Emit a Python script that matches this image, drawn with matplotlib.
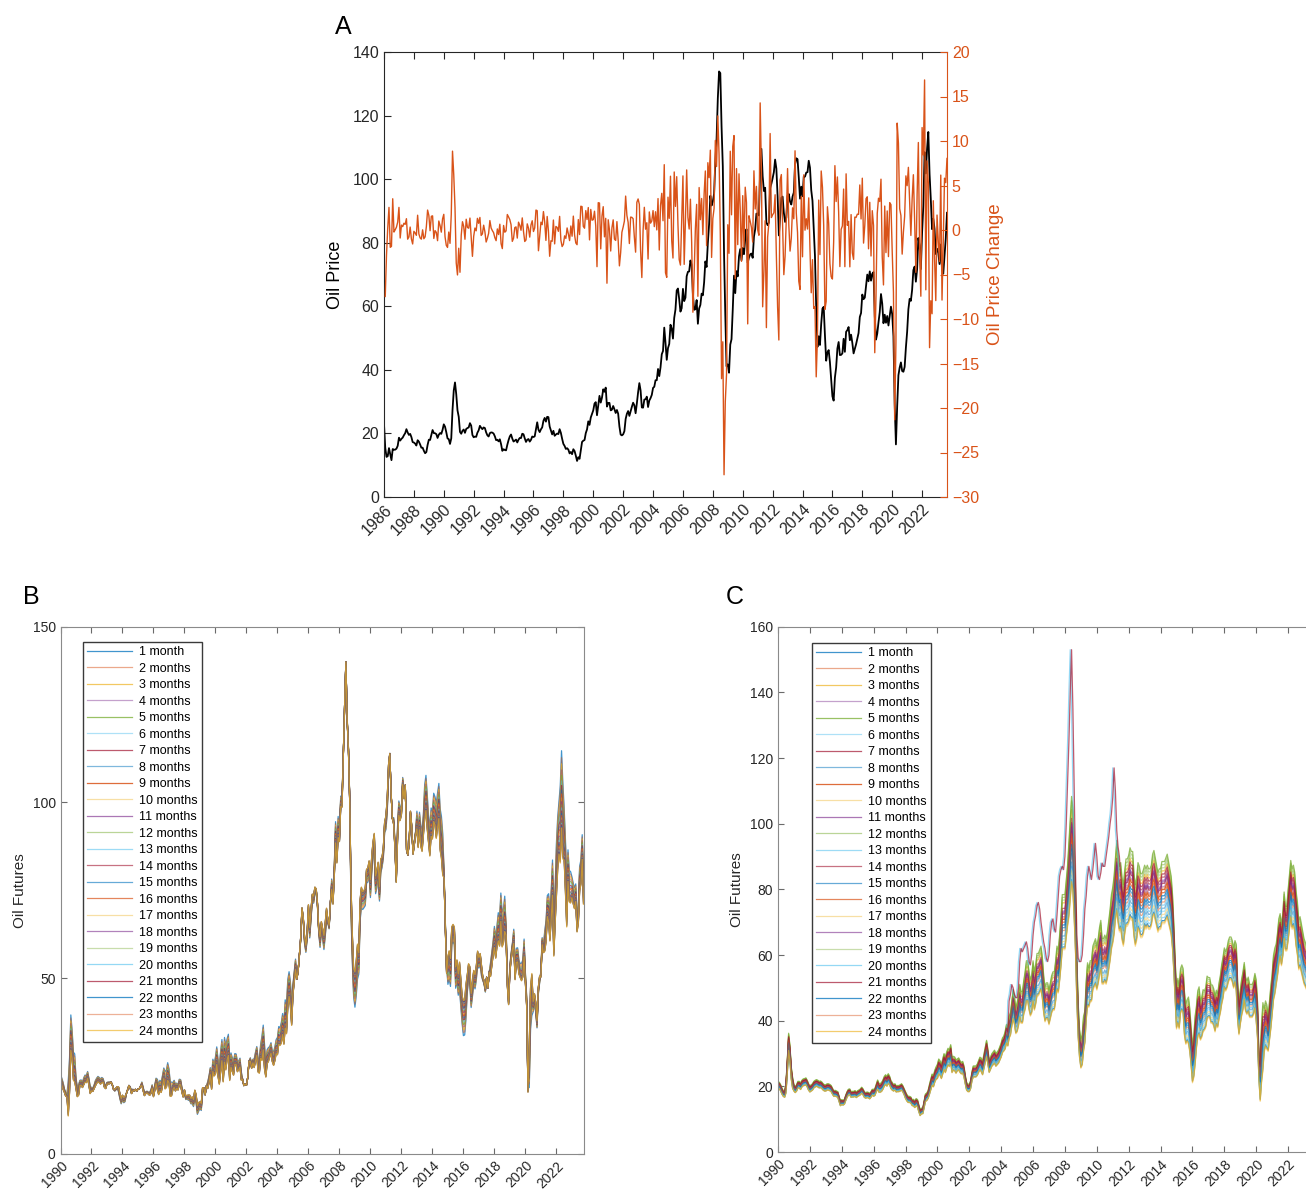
import numpy as np
import matplotlib
matplotlib.use('Agg')
import matplotlib.pyplot as plt

plt.rcParams['font.family'] = ['Liberation Sans', 'DejaVu Sans']

# ---------------------------------------------------------------------------
# Panel A: monthly oil price, Jan 1986 - Sep 2023
# ---------------------------------------------------------------------------
oil_price = [
    22.93, 15.46, 12.61, 12.84, 15.38, 13.43, 11.59, 15.10, 14.87, 14.90, 15.22, 16.11,  # 1986
    18.65, 17.75, 18.30, 18.68, 19.44, 20.07, 21.34, 20.31, 19.53, 19.86, 18.85, 17.28,  # 1987
    17.13, 16.80, 16.20, 17.86, 17.42, 16.53, 15.50, 15.52, 14.54, 13.77, 14.14, 16.38,  # 1988
    18.02, 17.94, 19.48, 21.07, 20.12, 20.05, 19.78, 18.58, 19.59, 20.10, 19.86, 21.10,  # 1989
    22.86, 22.11, 20.39, 18.43, 18.20, 16.70, 18.45, 27.31, 33.51, 36.04, 32.33, 27.28,  # 1990
    25.23, 20.48, 19.90, 20.83, 21.23, 20.19, 21.40, 21.69, 21.89, 23.23, 22.46, 19.50,  # 1991
    18.79, 19.01, 18.92, 20.23, 20.98, 22.39, 21.78, 21.34, 21.88, 21.69, 20.34, 19.41,  # 1992
    19.03, 20.09, 20.32, 20.25, 19.95, 19.09, 17.89, 18.01, 17.50, 18.15, 16.61, 14.52,  # 1993
    15.03, 14.78, 14.68, 16.42, 17.89, 19.06, 19.66, 18.38, 17.45, 17.72, 18.07, 17.16,  # 1994
    18.04, 18.57, 18.54, 19.90, 19.74, 18.45, 17.33, 18.02, 18.23, 17.43, 17.99, 19.03,  # 1995
    18.86, 19.09, 21.33, 23.50, 21.17, 20.42, 21.30, 21.90, 23.97, 24.88, 23.71, 25.23,  # 1996
    25.13, 22.18, 20.97, 19.70, 20.82, 19.26, 19.66, 19.95, 19.80, 21.33, 20.19, 18.33,  # 1997
    16.72, 16.06, 15.12, 15.35, 14.91, 13.72, 14.17, 13.47, 15.03, 14.46, 13.00, 11.35,  # 1998
    12.52, 12.01, 14.68, 17.31, 17.72, 17.92, 20.10, 21.28, 23.80, 22.69, 25.00, 26.10,  # 1999
    27.26, 29.37, 29.84, 25.72, 28.79, 31.82, 29.70, 31.26, 33.88, 33.11, 34.42, 28.44,  # 2000
    29.59, 29.61, 27.25, 27.49, 28.63, 27.60, 26.43, 27.37, 26.20, 22.17, 19.64, 19.39,  # 2001
    19.72, 20.72, 24.53, 26.18, 27.04, 25.52, 26.97, 28.39, 29.66, 28.84, 26.35, 29.46,  # 2002
    32.95, 35.83, 33.51, 28.17, 28.11, 30.66, 30.75, 31.57, 28.31, 30.34, 31.11, 32.13,  # 2003
    34.31, 34.69, 36.74, 36.75, 40.28, 38.03, 40.78, 44.90, 45.94, 53.28, 48.47, 43.15,  # 2004
    46.84, 48.15, 54.19, 52.98, 49.83, 56.35, 59.00, 64.99, 65.59, 62.26, 58.32, 59.41,  # 2005
    65.49, 61.63, 62.69, 69.44, 70.84, 70.95, 74.41, 73.04, 63.80, 58.89, 59.08, 61.96,  # 2006
    54.51, 59.28, 60.44, 63.98, 63.46, 67.49, 74.12, 72.36, 79.92, 85.80, 94.77, 91.69,  # 2007
    92.97, 95.39, 105.45, 112.58, 125.40, 133.88, 133.37, 116.67, 104.11, 76.61, 57.31, 41.12,  # 2008
    41.71, 39.09, 47.94, 49.65, 59.03, 69.64, 64.15, 71.05, 69.41, 75.72, 77.99, 74.47,  # 2009
    78.33, 76.39, 81.20, 84.29, 73.74, 75.34, 76.32, 76.60, 75.24, 81.89, 84.25, 89.15,  # 2010
    89.17, 88.58, 102.86, 109.53, 100.90, 96.26, 97.30, 86.33, 85.52, 86.32, 97.16, 98.56,  # 2011
    100.27, 102.20, 106.16, 103.32, 94.66, 82.30, 87.90, 94.13, 94.51, 89.49, 86.53, 87.86,  # 2012
    94.76, 95.31, 92.94, 92.02, 94.51, 95.77, 104.67, 106.57, 106.29, 100.54, 93.86, 97.63,  # 2013
    94.62, 100.82, 100.80, 102.07, 102.18, 105.79, 103.59, 96.54, 93.21, 84.40, 75.79, 59.29,  # 2014
    47.22, 50.58, 47.82, 54.45, 59.27, 59.82, 50.90, 42.87, 45.48, 46.22, 42.44, 37.19,  # 2015
    31.68, 30.32, 37.55, 40.75, 46.71, 48.76, 44.65, 44.72, 45.18, 49.78, 45.66, 51.97,  # 2016
    52.50, 53.47, 49.33, 51.06, 48.48, 45.18, 46.63, 48.04, 49.82, 51.58, 56.64, 57.88,  # 2017
    63.70, 62.23, 62.73, 66.25, 69.98, 67.87, 70.98, 68.06, 70.23, 70.75, 56.96, 49.52,  # 2018
    51.38, 54.95, 58.15, 63.86, 60.83, 54.66, 57.35, 54.81, 56.95, 53.96, 57.03, 59.88,  # 2019
    57.52, 50.54, 29.21, 16.55, 28.56, 38.31, 40.71, 42.34, 39.63, 39.40, 40.94, 47.02,  # 2020
    52.00, 59.04, 62.33, 61.72, 65.17, 71.38, 72.49, 67.73, 71.65, 81.48, 79.15, 71.71,  # 2021
    83.22, 91.64, 108.50, 101.78, 109.55, 114.84, 101.62, 93.67, 84.26, 87.55, 84.37, 76.44,  # 2022
    78.12, 76.83, 73.28, 79.45, 71.58, 70.25, 76.07, 81.39, 89.43,  # 2023
]

# ---------------------------------------------------------------------------
# Panel B: futures, front contract (month end), Jan 1990 - Oct 2023
# ---------------------------------------------------------------------------
fut_b_front = [
    22.7, 21.5, 20.3, 18.5, 17.4, 17.1, 20.7, 27.3, 39.5, 35.2, 28.9, 28.4,  # 1990
    21.5, 19.2, 19.6, 20.9, 21.0, 20.3, 21.6, 22.4, 22.2, 23.4, 21.5, 19.1,  # 1991
    18.9, 18.7, 19.5, 20.8, 21.5, 22.0, 21.7, 21.3, 21.7, 21.4, 19.9, 19.5,  # 1992
    20.3, 20.4, 20.4, 20.4, 19.8, 18.4, 17.8, 18.2, 18.6, 17.5, 15.6, 14.2,  # 1993
    15.2, 14.5, 14.8, 17.1, 18.2, 19.4, 19.1, 17.6, 18.4, 17.9, 18.3, 17.8,  # 1994
    18.4, 18.5, 19.2, 20.4, 18.9, 17.5, 17.6, 17.8, 17.5, 17.6, 18.1, 19.6,  # 1995
    17.7, 19.5, 21.5, 21.2, 19.8, 20.9, 20.4, 22.3, 24.4, 23.4, 23.8, 25.9,  # 1996
    24.2, 20.3, 20.4, 20.2, 20.9, 19.8, 20.1, 19.6, 21.2, 21.1, 19.0, 17.6,  # 1997
    17.2, 15.4, 15.6, 15.2, 15.2, 14.2, 14.2, 13.4, 16.1, 14.4, 11.2, 12.1,  # 1998
    12.8, 12.3, 16.8, 18.7, 16.8, 19.3, 20.5, 22.1, 24.5, 21.8, 26.9, 25.6,  # 1999
    27.6, 30.4, 26.9, 25.7, 29.0, 32.5, 27.4, 33.1, 30.8, 32.7, 34.0, 26.8,  # 2000
    28.7, 27.4, 26.3, 28.5, 28.4, 26.3, 26.4, 27.2, 23.4, 21.2, 19.4, 19.8,  # 2001
    19.5, 21.7, 26.3, 27.3, 25.3, 26.9, 27.0, 28.9, 30.5, 27.2, 26.9, 31.2,  # 2002
    33.5, 36.6, 31.0, 25.8, 29.6, 30.2, 30.5, 31.6, 29.2, 29.1, 30.4, 32.5,  # 2003
    33.1, 36.2, 35.8, 37.4, 39.9, 37.1, 43.8, 42.1, 49.6, 51.8, 49.1, 43.5,  # 2004
    48.2, 51.8, 55.4, 49.7, 52.0, 56.5, 60.6, 69.0, 66.2, 59.8, 57.3, 61.0,  # 2005
    67.9, 61.4, 66.6, 71.9, 71.3, 73.9, 74.4, 70.3, 62.9, 58.7, 63.1, 61.1,  # 2006
    58.1, 61.8, 65.9, 65.7, 64.0, 70.7, 78.2, 74.0, 81.7, 94.5, 88.7, 96.0,  # 2007
    91.8, 101.8, 101.6, 113.5, 127.4, 140.0, 124.1, 115.5, 100.6, 67.8, 54.4, 44.6,  # 2008
    41.7, 44.8, 49.7, 51.1, 66.3, 69.9, 69.5, 70.0, 70.6, 77.0, 77.3, 79.4,  # 2009
    72.9, 79.7, 83.8, 86.2, 74.0, 75.6, 79.0, 71.9, 80.0, 81.4, 84.1, 91.4,  # 2010
    92.2, 97.0, 106.7, 113.9, 102.7, 95.4, 95.7, 88.8, 79.2, 93.2, 100.4, 98.8,  # 2011
    98.5, 107.1, 103.0, 104.9, 86.5, 85.0, 88.1, 96.5, 92.2, 86.2, 88.9, 91.8,  # 2012
    97.5, 92.1, 97.2, 93.5, 92.0, 96.6, 105.0, 107.7, 102.3, 96.4, 92.7, 98.4,  # 2013
    97.5, 102.6, 101.6, 99.7, 102.7, 105.4, 98.2, 96.0, 91.2, 80.5, 66.2, 53.3,  # 2014
    48.2, 49.8, 47.6, 59.6, 60.3, 59.5, 47.1, 49.2, 45.1, 46.6, 41.7, 37.0,  # 2015
    33.6, 33.8, 38.3, 45.9, 49.1, 48.3, 41.6, 44.7, 48.2, 46.9, 49.4, 53.7,  # 2016
    52.8, 54.0, 50.6, 49.3, 48.3, 46.0, 50.2, 47.2, 51.7, 54.4, 57.4, 60.4,  # 2017
    64.7, 61.6, 64.9, 68.6, 67.0, 74.2, 68.8, 69.8, 73.3, 65.3, 50.9, 45.4,  # 2018
    53.8, 57.2, 60.1, 63.9, 53.5, 58.5, 58.6, 55.1, 54.1, 54.2, 55.2, 61.1,  # 2019
    51.6, 44.8, 20.5, 18.8, 35.5, 39.3, 40.3, 42.6, 40.2, 35.8, 45.3, 48.5,  # 2020
    52.2, 61.5, 59.2, 63.6, 66.3, 73.5, 74.0, 68.5, 75.0, 83.6, 66.2, 75.2,  # 2021
    88.2, 95.7, 100.3, 104.7, 114.7, 105.8, 98.6, 89.6, 79.5, 86.5, 80.6, 80.3,  # 2022
    78.9, 77.1, 75.7, 76.8, 68.1, 70.6, 81.8, 83.6, 90.8, 81.0,  # 2023
]

# 24-month minus 1-month spread, quarterly 1990Q1 - 2023Q4
fut_b_spread = [
    -2, -1, -10, -8,   -3, -1.5, -2, -2,   -1, -1.5, -1.5, -1,   -0.5, 0, 0.5, 1.5,
    1.5, 0, -0.5, 0,   0, -1, -0.5, -1,   -1.5, -3, -3, -5,   -4, -2, -1.5, -1.5,
    1, 1.5, 2, 2.5,   2, 0, -2, -3.5,   -5, -6, -7, -6,   -4, -3, -2.5, 0,
    0, -1, -2.5, -4,   -7, -4, -3, -4,   -5, -6, -8, -7,   -3, 0, 1, 2,
    3, 2, 1, 3,   4, 1, -3, -6,   -3, 0, -1, 8,   10, 6, 5, 4,
    5, 5, 4, 3,   4, 0, -2, -4,   -2, 0, 1, -1,   -5, -6, -10, -8,
    -8, -10, -12, -2,   8, 5, 6, 8,   10, 5, 4, 4,   3, 1, 0, -4,
    -6, -8, -10, -3,   -2, -4, -4, -5,   -3, 12, 3, 2,   -2, -6, -8, -10,
    -15, -22, -15, -9,   -6, -5, -7, -10,
]

# where each maturity sits between the front (0) and 24-month (1) contract
maturity_weight = [0.0, 0.09, 0.17, 0.25, 0.32, 0.39, 0.45, 0.51, 0.56, 0.61, 0.66, 0.70,
                   0.74, 0.78, 0.81, 0.84, 0.87, 0.90, 0.92, 0.94, 0.96, 0.98, 0.99, 1.0]

# ---------------------------------------------------------------------------
# Panel C: futures (second measure), centre of the band, Jan 1990 - Oct 2023
# ---------------------------------------------------------------------------
fut_c_mid = [
    20.5, 20.2, 19.5, 18.5, 17.8, 17.5, 19.5, 26.0, 33.5, 30.0, 24.0, 21.0,  # 1990
    19.5, 19.0, 19.5, 20.5, 20.5, 20.0, 20.8, 21.2, 21.3, 21.5, 20.8, 19.8,  # 1991
    19.2, 19.5, 19.8, 20.5, 20.8, 21.0, 20.8, 20.5, 20.6, 20.3, 19.8, 19.5,  # 1992
    19.5, 19.8, 19.8, 19.6, 19.3, 18.5, 17.8, 17.9, 17.7, 17.5, 16.2, 14.8,  # 1993
    15.2, 15.0, 15.3, 16.5, 17.5, 18.2, 18.3, 17.5, 17.6, 17.6, 17.8, 17.4,  # 1994
    17.8, 18.0, 18.3, 18.8, 18.3, 17.5, 17.2, 17.4, 17.3, 17.0, 17.5, 18.2,  # 1995
    18.0, 18.3, 19.5, 20.5, 19.5, 19.5, 19.8, 20.5, 21.5, 22.0, 21.5, 22.3,  # 1996
    21.8, 20.5, 20.0, 19.5, 19.8, 19.2, 19.3, 19.3, 19.5, 19.8, 19.2, 18.3,  # 1997
    17.3, 16.5, 16.0, 16.0, 15.8, 15.0, 15.0, 14.5, 15.2, 14.8, 13.3, 12.0,  # 1998
    12.5, 12.5, 14.5, 16.5, 16.8, 17.5, 19.0, 20.5, 22.0, 21.5, 23.0, 24.0,  # 1999
    24.5, 26.0, 25.5, 24.5, 26.0, 27.5, 26.5, 28.0, 29.0, 28.5, 30.0, 26.5,  # 2000
    27.0, 26.8, 26.0, 26.5, 26.8, 26.0, 25.5, 25.8, 24.5, 22.0, 20.0, 19.5,  # 2001
    19.5, 20.5, 23.0, 24.5, 24.5, 24.5, 25.0, 26.0, 27.0, 26.5, 25.5, 27.5,  # 2002
    29.5, 31.5, 29.0, 26.0, 27.0, 28.0, 28.5, 29.0, 28.0, 28.5, 29.0, 30.0,  # 2003
    31.0, 32.5, 33.0, 34.0, 36.0, 35.0, 38.0, 39.0, 42.0, 45.0, 43.0, 40.0,  # 2004
    41.0, 43.0, 46.0, 44.0, 44.0, 47.0, 49.0, 52.0, 52.0, 49.0, 47.0, 48.0,  # 2005
    52.0, 49.0, 51.0, 54.0, 54.0, 55.0, 56.0, 53.0, 48.0, 45.0, 46.0, 46.0,  # 2006
    44.0, 46.0, 48.0, 49.0, 49.0, 52.0, 56.0, 55.0, 59.0, 64.0, 70.0, 70.0,  # 2007
    70.0, 74.0, 78.0, 83.0, 89.0, 95.0, 92.0, 82.0, 70.0, 52.0, 40.0, 33.0,  # 2008
    30.0, 31.0, 36.0, 38.0, 46.0, 51.0, 50.0, 52.0, 52.0, 56.0, 57.0, 58.0,  # 2009
    56.0, 58.0, 61.0, 63.0, 58.0, 58.0, 59.0, 58.0, 60.0, 63.0, 66.0, 70.0,  # 2010
    72.0, 75.0, 80.0, 84.0, 80.0, 77.0, 78.0, 74.0, 72.0, 76.0, 79.0, 79.0,  # 2011
    80.0, 82.0, 81.0, 81.0, 75.0, 72.0, 74.0, 78.0, 77.0, 75.0, 75.0, 76.0,  # 2012
    78.0, 77.0, 78.0, 77.0, 77.0, 78.0, 81.0, 82.0, 80.0, 78.0, 76.0, 77.0,  # 2013
    77.0, 79.0, 79.0, 79.0, 80.0, 81.0, 79.0, 77.0, 75.0, 70.0, 62.0, 52.0,  # 2014
    44.0, 46.0, 44.0, 49.0, 50.0, 49.0, 42.0, 39.0, 40.0, 40.0, 37.0, 32.0,  # 2015
    27.0, 29.0, 34.0, 38.0, 42.0, 43.0, 40.0, 41.0, 43.0, 43.0, 44.0, 47.0,  # 2016
    47.0, 47.0, 45.0, 45.0, 44.0, 42.0, 44.0, 43.0, 46.0, 48.0, 51.0, 53.0,  # 2017
    56.0, 55.0, 56.0, 58.0, 59.0, 59.0, 58.0, 56.0, 58.0, 56.0, 46.0, 41.0,  # 2018
    44.0, 47.0, 49.0, 52.0, 48.0, 47.0, 48.0, 46.0, 46.0, 46.0, 47.0, 49.0,  # 2019
    46.0, 40.0, 26.0, 22.0, 30.0, 35.0, 37.0, 39.0, 38.0, 36.0, 40.0, 44.0,  # 2020
    48.0, 53.0, 55.0, 57.0, 60.0, 64.0, 66.0, 63.0, 66.0, 72.0, 68.0, 68.0,  # 2021
    72.0, 76.0, 80.0, 77.0, 78.0, 76.0, 71.0, 68.0, 63.0, 64.0, 62.0, 60.0,  # 2022
    58.0, 57.0, 56.0, 57.0, 53.0, 54.0, 60.0, 62.0, 66.0, 60.0,  # 2023
]

# relative half-width of the band, quarterly 1990Q1 - 2023Q4
fut_c_width = [
    .05, .05, .08, .08,   .05, .05, .05, .05,   .05, .05, .05, .05,   .05, .05, .05, .05,
    .05, .05, .05, .05,   .05, .05, .05, .05,   .06, .07, .07, .07,   .06, .05, .05, .05,
    .06, .06, .07, .08,   .07, .07, .08, .08,   .09, .09, .09, .09,   .08, .07, .07, .06,
    .06, .07, .07, .08,   .08, .07, .07, .07,   .07, .08, .09, .10,   .11, .11, .12, .12,
    .12, .12, .12, .12,   .12, .12, .12, .12,   .12, .14, .14, .13,   .15, .13, .12, .12,
    .12, .12, .12, .12,   .12, .13, .13, .13,   .13, .13, .13, .13,   .12, .12, .12, .12,
    .12, .12, .12, .12,   .15, .14, .16, .18,   .22, .17, .15, .14,   .13, .13, .12, .12,
    .11, .11, .11, .13,   .12, .11, .11, .11,   .14, .30, .18, .15,   .13, .11, .10, .10,
    .11, .12, .12, .12,   .12, .12, .12, .12,
]

# position of each maturity inside the band (-1 bottom, +1 top)
fut_c_disp = [-0.9, -0.3, 0.7, 0.2, 1.0, -0.6, 0.3, -0.5, 0.1, -0.7, 0.4, 0.9,
              -0.8, 0.5, -0.2, 0.0, -1.0, 0.35, 0.8, -0.4, 0.6, -0.1, 0.15, -0.95]

# the two maturities that run far above the rest, Jul 2004 - Jun 2011
fut_c_high_start = 174  # months after Jan 1990
fut_c_high = [
    46, 48, 51, 50, 48, 47,  # 2004 H2
    47, 50, 58, 62, 61, 62, 63, 64, 62, 58, 57, 60,  # 2005
    66, 70, 72, 75, 76, 74, 70, 67, 64, 62, 59, 58,  # 2006
    60, 66, 70, 71, 68, 67, 72, 78, 84, 86, 87, 86,  # 2007
    90, 100, 112, 125, 140, 153, 135, 110, 85, 66, 59, 58,  # 2008
    58, 60, 66, 74, 78, 84, 87, 85, 83, 86, 90, 94,  # 2009
    90, 84, 83, 85, 88, 87, 87, 90, 93, 96, 100, 103,  # 2010
    108, 117, 110, 98, 93, 90,  # 2011 H1
]
# 20 months (light blue, one month ahead) and 21 months (red), 0-based index: lead
fut_c_high_series = {19: 1, 20: 0}

maturity_labels = ['1 month'] + [f'{m} months' for m in range(2, 25)]
matlab_colors = ['#0072BD', '#D95319', '#EDB120', '#7E2F8E', '#77AC30', '#4DBEEE', '#A2142F']
line_alpha = [0.75, 0.5, 0.7, 0.45, 0.75, 0.45, 0.7, 0.5, 0.85, 0.4, 0.65, 0.5,
              0.55, 0.6, 0.6, 0.7, 0.4, 0.6, 0.4, 0.6, 0.7, 0.75, 0.45, 0.65]

ORANGE = '#D95319'
AX_COLOR = '#262626'
W, H = 1306, 1191


def _px_axes(left, top, right, bottom):
    """Axes rectangle from pixel edges"""
    return [left / W, 1 - bottom / H, (right - left) / W, (bottom - top) / H]


def _style_box(ax, size):
    """MATLAB-like boxed axes with inward ticks"""
    for side in ['left', 'right', 'top', 'bottom']:
        ax.spines[side].set_color('#8a8a8a')
        ax.spines[side].set_linewidth(0.8)
    ax.tick_params(direction='in', length=4, width=0.8, color='#6a6a6a',
                   top=True, right=True, labelsize=size, labelcolor=AX_COLOR)


fig = plt.figure(figsize=(W / 100, H / 100), dpi=100)

# ---------------- Panel A ----------------
ax_a = fig.add_axes(_px_axes(384, 52, 947, 497))
years_a = 1986 + np.arange(len(oil_price)) / 12
ax_a.plot(years_a, oil_price, color='black', lw=1.3)
ax_a.set_xlim(1986, years_a[-1])
ax_a.set_ylim(0, 140)
ax_a.set_yticks(range(0, 141, 20))
year_ticks_a = list(range(1986, 2023, 2))
ax_a.set_xticks(year_ticks_a)
ax_a.set_xticklabels([str(y) for y in year_ticks_a], rotation=45, ha='right',
                     rotation_mode='anchor')
ax_a.tick_params(direction='in', length=5, width=0.8, top=True, right=False,
                 labelsize=11.5, colors=AX_COLOR)
for side in ['left', 'top', 'bottom']:
    ax_a.spines[side].set_color(AX_COLOR)
ax_a.spines['right'].set_visible(False)
ax_a.set_ylabel('Oil Price', fontsize=13, color='black', labelpad=6)

ax_a2 = ax_a.twinx()
ax_a2.plot(years_a[1:], np.diff(oil_price), color=ORANGE, lw=1.0)
ax_a2.set_ylim(-30, 20)
ax_a2.set_yticks(range(-30, 21, 5))
ax_a2.tick_params(axis='y', direction='in', length=5, width=0.8, colors=ORANGE,
                  labelsize=11.5)
ax_a2.spines['right'].set_color(ORANGE)
ax_a2.spines['left'].set_visible(False)
ax_a2.spines['top'].set_visible(False)
ax_a2.spines['bottom'].set_visible(False)
ax_a2.set_ylabel('Oil Price Change', fontsize=13.5, color=ORANGE, labelpad=6)

fig.text(343 / W, 1 - 27 / H, 'A', fontsize=18, ha='center', va='center')

# ---------------- Panel B ----------------
ax_b = fig.add_axes(_px_axes(60.5, 626.7, 583.5, 1153.7))
years_b = 1990 + np.arange(len(fut_b_front)) / 12
front_b = np.array(fut_b_front)
spread_b = np.array([fut_b_spread[min(i // 3, len(fut_b_spread) - 1)]
                     for i in range(len(fut_b_front))])
for k, label in enumerate(maturity_labels):
    ax_b.plot(years_b, front_b + spread_b * maturity_weight[k],
              color=matlab_colors[k % 7], alpha=line_alpha[k], lw=0.9, label=label)
ax_b.set_xlim(1990, years_b[-1])
ax_b.set_ylim(0, 150)
ax_b.set_yticks([0, 50, 100, 150])
year_ticks_b = list(range(1990, 2023, 2))
ax_b.set_xticks(year_ticks_b)
ax_b.set_xticklabels([str(y) for y in year_ticks_b], rotation=45, ha='right',
                     rotation_mode='anchor')
_style_box(ax_b, 10)
ax_b.set_ylabel('Oil Futures', fontsize=11, color=AX_COLOR, labelpad=4)
leg_b = ax_b.legend(loc='upper left', bbox_to_anchor=(0.043, 0.971), fontsize=9,
                    frameon=True, fancybox=False, edgecolor='#3a3a3a', framealpha=1,
                    handlelength=3.6, handletextpad=0.5, labelspacing=0.36,
                    borderpad=0.35, borderaxespad=0)
leg_b.get_frame().set_linewidth(1.0)
fig.text(31 / W, 1 - 597 / H, 'B', fontsize=18, ha='center', va='center')

# ---------------- Panel C ----------------
ax_c = fig.add_axes(_px_axes(778, 626.7, 1316, 1152))
years_c = 1990 + np.arange(len(fut_c_mid)) / 12
mid_c = np.array(fut_c_mid)
width_c = np.array([fut_c_width[min(i // 3, len(fut_c_width) - 1)]
                    for i in range(len(fut_c_mid))])
for k, label in enumerate(maturity_labels):
    series = mid_c * (1 + fut_c_disp[k] * width_c)
    if k in fut_c_high_series:
        start = fut_c_high_start - fut_c_high_series[k]
        series[start:start + len(fut_c_high)] = fut_c_high
    ax_c.plot(years_c, series, color=matlab_colors[k % 7], alpha=line_alpha[k],
              lw=0.9, label=label)
ax_c.set_xlim(1990, years_c[-1])
ax_c.set_ylim(0, 160)
ax_c.set_yticks(range(0, 161, 20))
ax_c.set_xticks(year_ticks_b)
ax_c.set_xticklabels([str(y) for y in year_ticks_b], rotation=45, ha='right',
                     rotation_mode='anchor')
_style_box(ax_c, 10)
ax_c.set_ylabel('Oil Futures', fontsize=11, color=AX_COLOR, labelpad=4)
leg_c = ax_c.legend(loc='upper left', bbox_to_anchor=(0.063, 0.969), fontsize=9,
                    frameon=True, fancybox=False, edgecolor='#3a3a3a', framealpha=1,
                    handlelength=3.6, handletextpad=0.5, labelspacing=0.36,
                    borderpad=0.35, borderaxespad=0)
leg_c.get_frame().set_linewidth(1.0)
fig.text(735 / W, 1 - 597 / H, 'C', fontsize=18, ha='center', va='center')

fig.savefig('out.png', dpi=100)
plt.close(fig)
